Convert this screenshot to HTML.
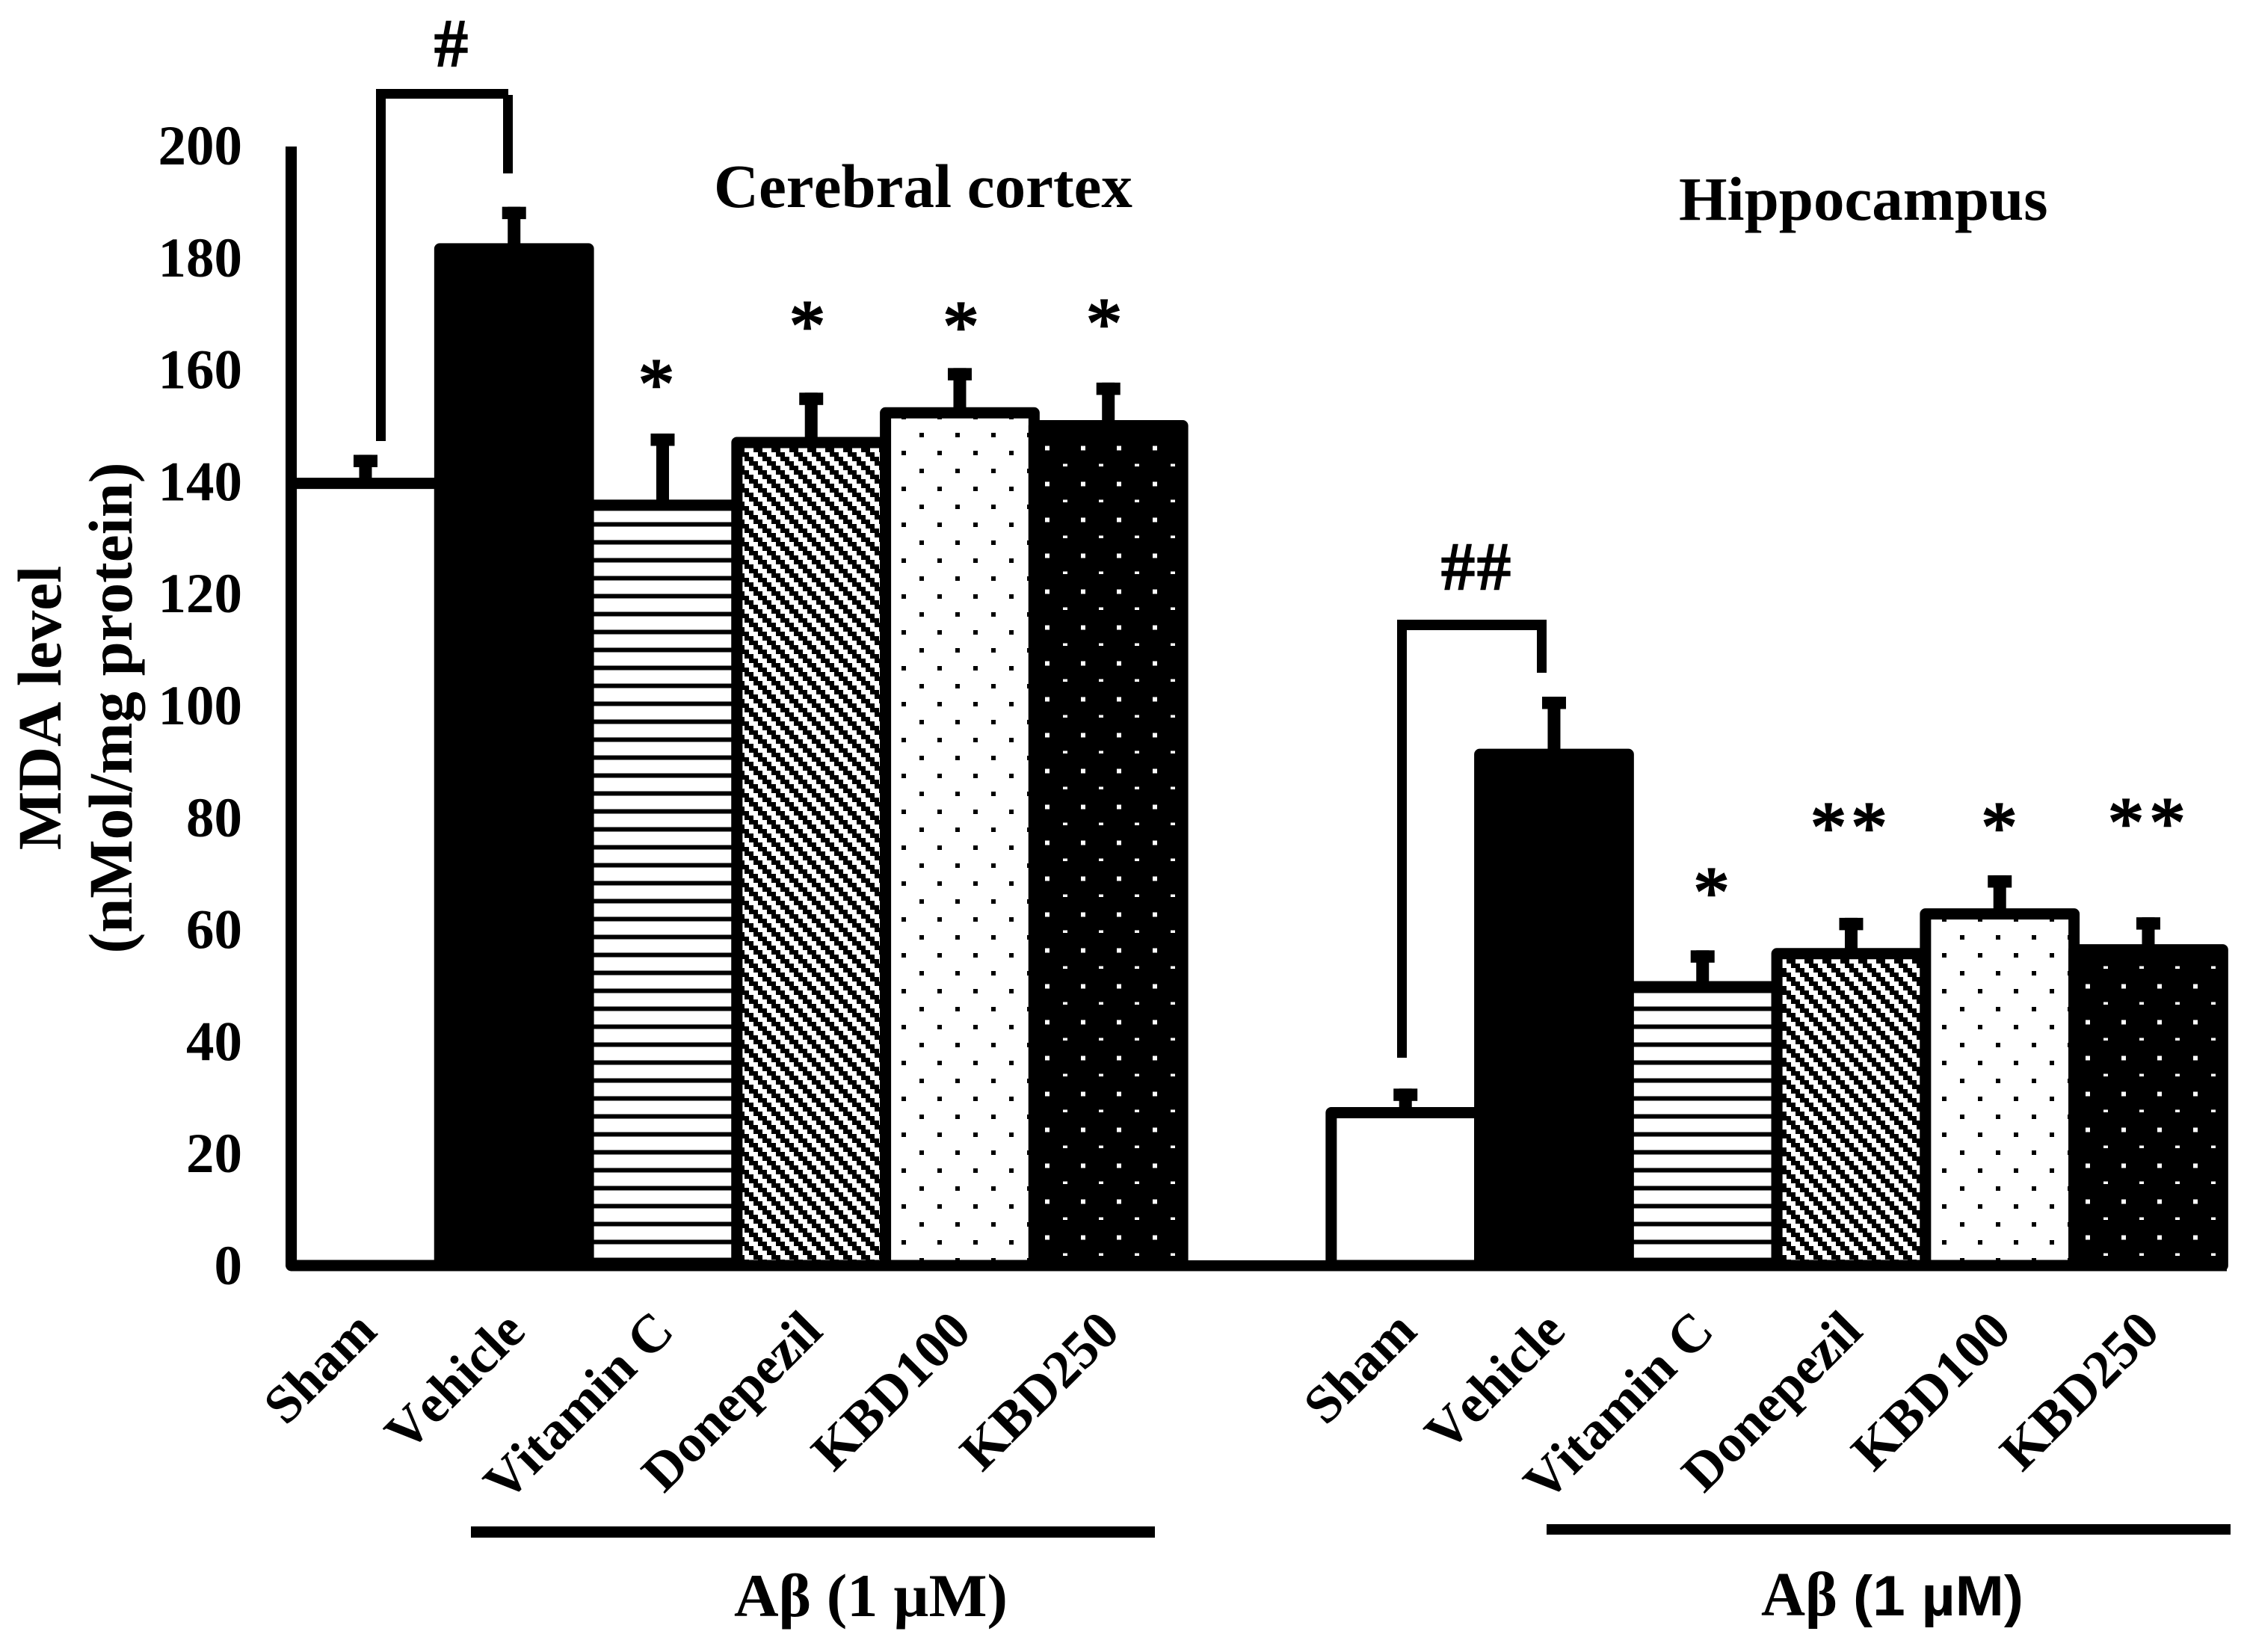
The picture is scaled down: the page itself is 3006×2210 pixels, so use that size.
<!DOCTYPE html>
<html lang="en">
<head>
<meta charset="utf-8">
<title>MDA level chart</title>
<style>
  html, body { margin: 0; padding: 0; background: #fff; }
  svg { display: block; }
  text { font-family: "Liberation Serif", "DejaVu Serif", serif; fill: #000; font-kerning: none; }
  .b { font-weight: bold; }
  .mark { stroke: #000; stroke-width: 2.5; }
  .sans { font-family: "Liberation Sans", "DejaVu Sans", sans-serif; font-weight: bold; }
</style>
</head>
<body>
<svg id="chart" xmlns="http://www.w3.org/2000/svg" width="3006" height="2210" viewBox="0 0 3006 2210">
  <defs>
    <pattern id="p-lines" patternUnits="userSpaceOnUse" x="0" y="2.5" width="24" height="24">
      <rect x="0" y="0" width="24" height="24" fill="#fff"/>
      <rect x="0" y="0" width="24" height="6" fill="#000"/>
    </pattern>
    <pattern id="p-hatch" patternUnits="userSpaceOnUse" x="0" y="23" width="24" height="24" shape-rendering="crispEdges">
      <rect x="0" y="0" width="24" height="24" fill="#000"/>
      <rect x="12" y="0" width="12" height="6" fill="#fff"/>
      <rect x="18" y="6" width="6" height="6" fill="#fff"/>
      <rect x="0" y="6" width="6" height="6" fill="#fff"/>
      <rect x="0" y="12" width="12" height="6" fill="#fff"/>
      <rect x="6" y="18" width="12" height="6" fill="#fff"/>
    </pattern>
    <pattern id="p-hatch-hip" patternUnits="userSpaceOnUse" x="2" y="23" width="24" height="24" shape-rendering="crispEdges">
      <rect x="0" y="0" width="24" height="24" fill="#000"/>
      <rect x="12" y="0" width="12" height="6" fill="#fff"/>
      <rect x="18" y="6" width="6" height="6" fill="#fff"/>
      <rect x="0" y="6" width="6" height="6" fill="#fff"/>
      <rect x="0" y="12" width="12" height="6" fill="#fff"/>
      <rect x="6" y="18" width="12" height="6" fill="#fff"/>
    </pattern>
    <pattern id="p-dots-black" patternUnits="userSpaceOnUse" x="0" y="0" width="48" height="48" shape-rendering="crispEdges">
      <rect x="0" y="0" width="48" height="48" fill="#fff"/>
      <rect x="6" y="27" width="6" height="6" fill="#000"/>
      <rect x="30" y="3" width="6" height="6" fill="#000"/>
    </pattern>
    <pattern id="p-dots-white" patternUnits="userSpaceOnUse" x="0" y="0" width="48" height="48" shape-rendering="crispEdges">
      <rect x="0" y="0" width="48" height="48" fill="#000"/>
      <rect x="6" y="20.5" width="6" height="6" fill="#fff"/>
      <rect x="30" y="44.5" width="6" height="6" fill="#fff"/>
    </pattern>
  </defs>

  <g id="bars"></g>
  <g id="errors"></g>
  <g id="ticks"></g>
  <g id="xlabels"></g>

  <rect x="382" y="196" width="15" height="1498" fill="#000"/>
  <rect x="389" y="1686" width="2590" height="14.5" fill="#000"/>

  <text class="b" font-size="83" text-anchor="middle" transform="translate(81 947) rotate(-90)">MDA level</text>
  <text class="b" font-size="83" text-anchor="middle" transform="translate(176 947) rotate(-90)">(nMol/mg protein)</text>

  <text class="b" font-size="83" x="955" y="277">Cerebral cortex</text>
  <text class="b" font-size="83" x="2246" y="294">Hippocampus</text>

  <g fill="#000">
    <rect x="503" y="119" width="177" height="13"/>
    <rect x="503" y="119" width="13" height="471"/>
    <rect x="673" y="127" width="13" height="105"/>
  </g>
  <text class="mark" font-size="90" text-anchor="middle" x="603.5" y="88">#</text>

  <g fill="#000">
    <rect x="1869" y="829" width="200" height="14"/>
    <rect x="1869" y="829" width="13" height="586"/>
    <rect x="2056" y="829" width="13" height="71"/>
  </g>
  <text class="mark" font-size="90" x="1928 1976" y="788">##</text>

  <g font-size="96" text-anchor="middle">
    <text class="mark" x="878" y="546">*</text>
    <text class="mark" x="1080" y="468">*</text>
    <text class="mark" x="1285.5" y="469">*</text>
    <text class="mark" x="1477" y="465">*</text>
  </g>
  <g font-size="96">
    <text class="mark" x="2265.5" y="1226">*</text>
    <text class="mark" x="2422 2476.5" y="1139">**</text>
    <text class="mark" x="2650.5" y="1139">*</text>
    <text class="mark" x="2820 2875.5" y="1133">**</text>
  </g>

  <rect x="630" y="2042" width="915" height="15" fill="#000"/>
  <rect x="2069" y="2039" width="915" height="14" fill="#000"/>
  <text class="b" font-size="82" x="982" y="2162" textLength="366" lengthAdjust="spacingAndGlyphs">Aβ (1 µM)</text>
  <g>
    <text class="b" font-size="84" x="2356" y="2161" textLength="102" lengthAdjust="spacingAndGlyphs">Aβ</text>
    <text class="sans" font-size="76" x="2479" y="2161" textLength="228" lengthAdjust="spacingAndGlyphs">(1 µM)</text>
  </g>
</svg>

<script>
var categories = ['Sham', 'Vehicle', 'Vitamin C', 'Donepezil', 'KBD100', 'KBD250'];
var cortexValues = [139.7, 181.6, 135.8, 147, 152.3, 150];
var cortexErrors = [5.1, 7.5, 12.8, 8.9, 8, 7.7];
var hippocampusValues = [27.3, 91.3, 49.8, 55.7, 62.8, 56.4];
var hippocampusErrors = [4.3, 10.3, 6.5, 6.4, 6.9, 5.8];
var yTicks = [0, 20, 40, 60, 80, 100, 120, 140, 160, 180, 200];
var cortexFills = ['#fff', '#000', 'url(#p-lines)', 'url(#p-hatch)', 'url(#p-dots-black)', 'url(#p-dots-white)'];
var hippocampusFills = ['#fff', '#000', 'url(#p-lines)', 'url(#p-hatch-hip)', 'url(#p-dots-black)', 'url(#p-dots-white)'];

var SVG_NS = 'http://www.w3.org/2000/svg';
function yScale(v) { return 1693 - v * 7.49; }
function xScale(slot) { return 389.6 + (slot + 0.5) * 198.75; }
function slotWidth() { return 198.75; }

var barsLayer = document.getElementById('bars');
var errorsLayer = document.getElementById('errors');
var ticksLayer = document.getElementById('ticks');
var labelsLayer = document.getElementById('xlabels');

function make(tag, attrs) {
  var el = document.createElementNS(SVG_NS, tag);
  for (var k in attrs) { el.setAttribute(k, attrs[k]); }
  return el;
}

function drawGroup(slotStart, values, errors, fills) {
  values.forEach(function (v, i) {
    var cx = xScale(slotStart + i);
    var top = yScale(v);
    var w = slotWidth();
    var bar = make('rect', {
      x: cx - w / 2, y: top, width: w, height: yScale(0) - top,
      fill: fills[i], stroke: '#000', 'stroke-width': 15, 'stroke-linejoin': 'round'
    });
    
    
    barsLayer.appendChild(bar);

    var capTop = yScale(v + errors[i]);
    var stem = make('rect', { x: cx - 8.5, y: capTop, width: 17, height: top - capTop, fill: '#000' });
    
    
    errorsLayer.appendChild(stem);

    var cap = make('rect', { x: cx - 16, y: capTop, width: 32, height: 16.5, fill: '#000' });
    
    
    errorsLayer.appendChild(cap);

    var lx = cx + 18;
    var label = make('text', {
      'class': 'b', 'font-size': 72, 'text-anchor': 'end',
      transform: 'translate(' + lx + ' 1784) rotate(-45)'
    });
    label.textContent = categories[i];
    
    
    labelsLayer.appendChild(label);
  });
}

drawGroup(0, cortexValues, cortexErrors, cortexFills);
drawGroup(7, hippocampusValues, hippocampusErrors, hippocampusFills);

yTicks.forEach(function (t) {
  var tick = make('text', {
    'class': 'b', 'font-size': 75, 'text-anchor': 'end', x: 324, y: yScale(t) + 25
  });
  tick.textContent = String(t);
  
  
  ticksLayer.appendChild(tick);
});
</script>
</body>
</html>
